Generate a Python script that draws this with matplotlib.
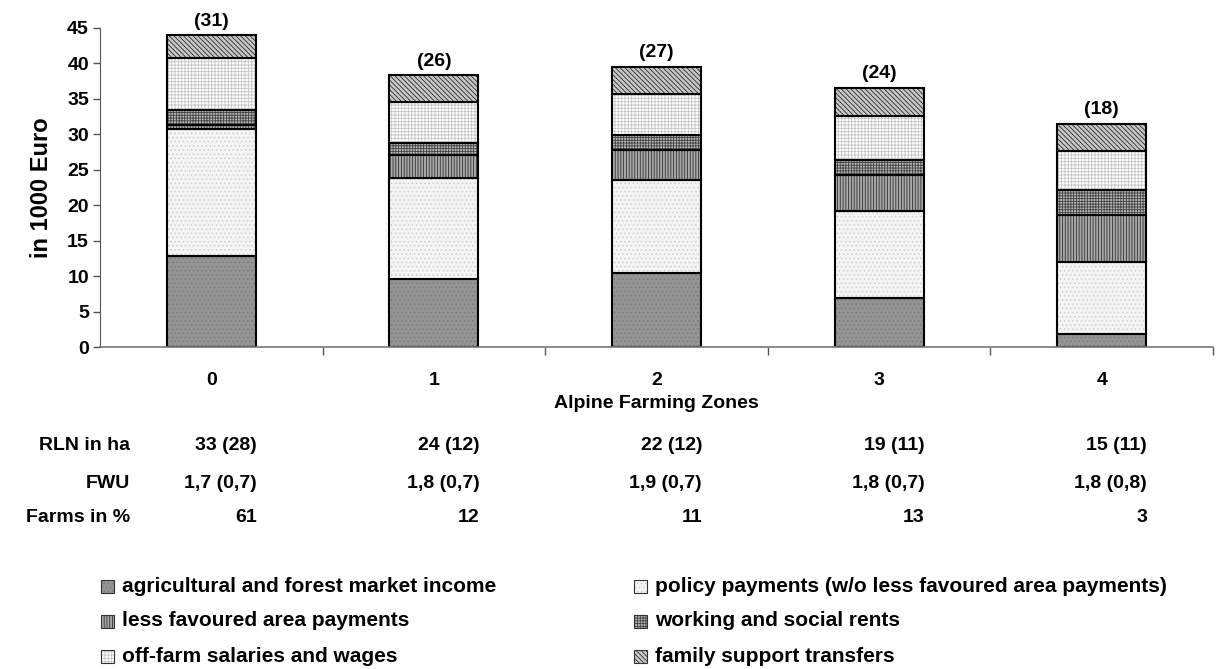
import matplotlib
matplotlib.use("Agg")
import matplotlib.pyplot as plt
import matplotlib.patches as mpatches
import numpy as np

plt.rcParams["font.family"] = ["Liberation Sans", "DejaVu Sans"]
plt.rcParams["font.weight"] = "bold"
plt.rcParams["hatch.linewidth"] = 0.6

zones = ["0", "1", "2", "3", "4"]
n_farms = ["(31)", "(26)", "(27)", "(24)", "(18)"]

# income components, 1000 Euro (bottom -> top)
market   = [12.9, 9.6, 10.4, 6.9, 1.8]
policy   = [17.9, 14.3, 13.1, 12.3, 10.2]
lfa      = [0.5, 3.15, 4.3, 5.0, 6.65]
working  = [2.2, 1.75, 2.1, 2.2, 3.55]
offfarm  = [7.3, 5.8, 5.8, 6.2, 5.5]
family   = [3.2, 3.7, 3.8, 4.0, 3.8]

rln   = ["33 (28)", "24 (12)", "22 (12)", "19 (11)", "15 (11)"]
fwu   = ["1,7 (0,7)", "1,8 (0,7)", "1,9 (0,7)", "1,8 (0,7)", "1,8 (0,8)"]
farms = ["61", "12", "11", "13", "3"]

series = [
    ("agricultural and forest market income", market),
    ("policy payments (w/o less favoured area payments)", policy),
    ("less favoured area payments", lfa),
    ("working and social rents", working),
    ("off-farm salaries and wages", offfarm),
    ("family support transfers", family),
]
# (face, hatch colour, hatch)
styles = [
    ("#949494", "#7a7a7a", "...."),
    ("#f4f4f4", "#cccccc", "...."),
    ("#a8a8a8", "#333333", "||||||"),
    ("#b4b4b4", "#444444", "++++++"),
    ("#ffffff", "#c4c4c4", "+++++"),
    ("#c8c8c8", "#2a2a2a", "\\\\\\\\\\\\\\"),
]

W, H = 1218, 669
fig = plt.figure(figsize=(W/100, H/100), dpi=100)
ax = fig.add_axes([100/W, 1-347/H, 1113/W, (347-28)/H])

x = np.arange(len(zones))
w = 0.40
bottom = np.zeros(len(zones))
for (lab, vals), (fc, hc, h) in zip(series, styles):
    ax.bar(x, vals, w, bottom=bottom, color=fc, edgecolor=hc, hatch=h, linewidth=0)
    ax.bar(x, vals, w, bottom=bottom, fill=False, edgecolor="black", linewidth=1.5)
    bottom += np.array(vals)

for xi, top, lab in zip(x, bottom, n_farms):
    ax.annotate(lab, (xi, top), xytext=(0, 4), textcoords="offset points",
                ha="center", va="bottom", fontsize=14, fontweight="bold")

ax.set_xlim(-0.5, 4.5)
ax.set_ylim(0, 45)
ax.set_yticks(range(0, 50, 5))
ax.tick_params(axis="y", labelsize=14, length=5, width=1, color="#555555", pad=3)
ax.set_xticks(x)
ax.set_xticklabels(zones, fontsize=14, fontweight="bold")
ax.tick_params(axis="x", length=0, pad=18)
ax.set_xticks(np.arange(0.5, 4.6, 1), minor=True)
ax.tick_params(axis="x", which="minor", length=6, width=1, color="#555555")
for s in ["top", "right"]:
    ax.spines[s].set_visible(False)
ax.spines["left"].set_color("#555555")
ax.spines["bottom"].set_color("#777777")
ax.spines["bottom"].set_linewidth(1.2)
ax.set_ylabel("in 1000 Euro", fontsize=17, fontweight="bold", labelpad=10)
ax.set_xlabel("Alpine Farming Zones", fontsize=14, fontweight="bold", labelpad=4)

# table rows under the axis
fs = 14
for lab, row, yp in [("RLN in ha", rln, 445), ("FWU", fwu, 484), ("Farms in %", farms, 517)]:
    fig.text(130/W, 1-yp/H, lab, ha="right", va="center", fontsize=fs, fontweight="bold")
    for xi, v in zip(x, row):
        xd = ax.transData.transform((xi + w/2, 0))[0]
        fig.text((xd + 1)/W, 1-yp/H, v, ha="right", va="center", fontsize=fs, fontweight="bold")

# legend, two columns
lx = [101, 634]
ly = [586, 621, 656]
sq = 13
for i, ((lab, _), (fc, hc, h)) in enumerate(zip(series, styles)):
    col, row = i % 2, i // 2
    x0, y0 = lx[col]/W, 1-(ly[row] + sq/2)/H
    fig.add_artist(mpatches.Rectangle((x0, y0), sq/W, sq/H, transform=fig.transFigure,
                                      facecolor=fc, edgecolor=hc, hatch=h, linewidth=0))
    fig.add_artist(mpatches.Rectangle((x0, y0), sq/W, sq/H, transform=fig.transFigure,
                                      fill=False, edgecolor="#333333", linewidth=0.8))
    fig.text((lx[col] + 21)/W, 1-ly[row]/H, lab, ha="left", va="center",
             fontsize=15, fontweight="bold")

fig.savefig("out.png", dpi=100)
